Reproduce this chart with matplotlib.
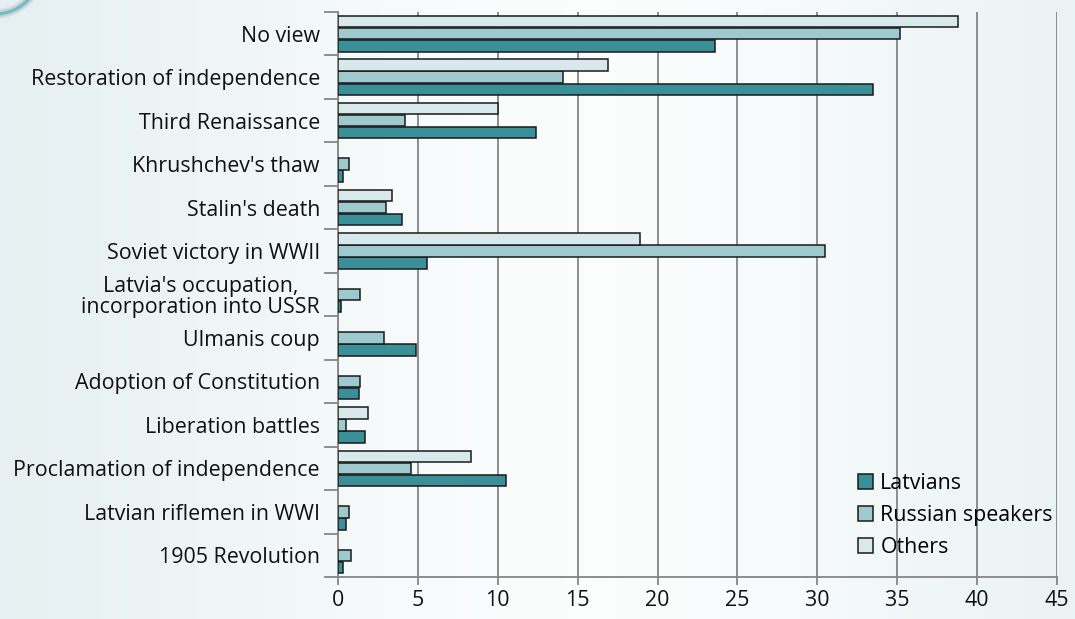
import numpy as np
import matplotlib
matplotlib.use("Agg")
import matplotlib.pyplot as plt
from matplotlib.colors import LinearSegmentedColormap
from matplotlib.patches import Arc
from matplotlib.ticker import FixedLocator

plt.rcParams['font.family'] = ['Open Sans', 'DejaVu Sans']

# events listed bottom to top
events = [
    "1905 Revolution",
    "Latvian riflemen in WWI",
    "Proclamation of independence",
    "Liberation battles",
    "Adoption of Constitution",
    "Ulmanis coup",
    "Latvia's occupation,\nincorporation into USSR",
    "Soviet victory in WWII",
    "Stalin's death",
    "Khrushchev's thaw",
    "Third Renaissance",
    "Restoration of independence",
    "No view",
]
latvians = [0.3, 0.5, 10.5, 1.7, 1.3, 4.9, 0.2, 5.6, 4.0, 0.3, 12.4, 33.5, 23.6]
russian = [0.8, 0.7, 4.6, 0.5, 1.4, 2.9, 1.4, 30.5, 3.0, 0.7, 4.2, 14.1, 35.2]
others = [0.0, 0.0, 8.3, 1.9, 0.0, 0.0, 0.0, 18.9, 3.4, 0.0, 10.0, 16.9, 38.8]
x_ticks = [0, 5, 10, 15, 20, 25, 30, 35, 40, 45]

c_lat = "#3a9098"
c_rus = "#9ec9ce"
c_oth = "#d8e9ec"
grid_c = "#858585"
fs = 15.4

fig = plt.figure(figsize=(10.75, 6.19), dpi=100)

# soft background
bg = fig.add_axes([0, 0, 1, 1], zorder=-10)
xx = np.linspace(0, 1, 400)
prof = np.exp(-((xx - 0.55) / 0.42) ** 2)
grad = np.tile(prof, (50, 1))
cmap = LinearSegmentedColormap.from_list("bg", ["#e2eef0", "#fbfdfd"])
bg.imshow(grad, aspect="auto", cmap=cmap, extent=[0, 1, 0, 1], vmin=0, vmax=1)
bg.set_xlim(0, 1)
bg.set_ylim(0, 1)
bg.axis("off")

# decorative ring in the corner
W, H = 1075, 619
for lw, col, a in [(7, "#9aa6a8", 0.2), (4.5, "#9aa6a8", 0.3), (2.0, "#6fbcc6", 1.0)]:
    bg.add_patch(Arc((-5 / W, 1 + 32 / H), 2 * 46 / W, 2 * 46 / H,
                     theta1=250, theta2=360, lw=lw, color=col, alpha=a))

ax = fig.add_axes([338 / W, 42 / H, 719 / W, 565 / H])
ax.patch.set_alpha(0)

y = np.arange(len(events))
h = 0.265
off = 0.278
kw = dict(height=h, edgecolor="#1a1a1a", linewidth=1.1, zorder=3)
ax.barh(y - off, latvians, color=c_lat, label="Latvians", **kw)
ax.barh(y, russian, color=c_rus, label="Russian speakers", **kw)
ax.barh(y + off, [v if v > 0 else np.nan for v in others], color=c_oth,
        label="Others", **kw)

ax.set_xlim(0, 45)
ax.set_ylim(-0.5, len(events) - 0.5)
ax.set_xticks(x_ticks)
ax.xaxis.grid(True, color=grid_c, linewidth=1.3, zorder=0)
ax.set_axisbelow(True)

# category boundaries as ticks, names at the centres
ax.yaxis.set_major_locator(FixedLocator(np.arange(-0.5, len(events), 1.0)))
ax.yaxis.set_minor_locator(FixedLocator(y))
ax.set_yticklabels([], minor=False)
ax.set_yticklabels(events, minor=True)
ax.tick_params(axis="y", which="major", length=10, width=1.3, color=grid_c)
ax.tick_params(axis="y", which="minor", length=0, pad=13, labelsize=fs,
               labelcolor="#111111")
ax.tick_params(axis="x", length=6, width=1.3, color=grid_c, labelsize=fs,
               labelcolor="#111111", pad=3)
for lbl in ax.get_yticklabels(minor=True):
    if "\n" in lbl.get_text():
        lbl.set_multialignment("center")
        lbl.set_linespacing(1.0)

for s in ["top", "right"]:
    ax.spines[s].set_visible(False)
for s in ["left", "bottom"]:
    ax.spines[s].set_color(grid_c)
    ax.spines[s].set_linewidth(1.3)

ax.legend(loc="lower right", bbox_to_anchor=(1.021, 0.0), frameon=False,
          fontsize=fs, handlelength=0.7, handleheight=0.7,
          handletextpad=0.35, labelspacing=0.5)

fig.savefig("out.png", dpi=100)
